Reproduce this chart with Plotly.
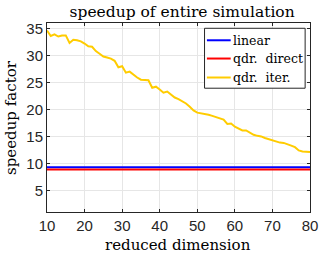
import plotly.graph_objects as go

dims = list(range(10, 81))

linear = [9.30, 9.30, 9.30, 9.29, 9.30, 9.30, 9.29, 9.30, 9.30, 9.30,
          9.29, 9.30, 9.30, 9.30, 9.30, 9.29, 9.30, 9.30, 9.30, 9.30,
          9.29, 9.30, 9.30, 9.30, 9.30, 9.29, 9.30, 9.30, 9.30, 9.30,
          9.29, 9.30, 9.30, 9.30, 9.30, 9.29, 9.30, 9.30, 9.30, 9.30,
          9.29, 9.30, 9.30, 9.30, 9.30, 9.29, 9.30, 9.30, 9.30, 9.30,
          9.29, 9.30, 9.30, 9.30, 9.30, 9.29, 9.30, 9.30, 9.30, 9.30,
          9.29, 9.30, 9.30, 9.30, 9.30, 9.29, 9.30, 9.30, 9.30, 9.30,
          9.30]

qdr_direct = [8.88, 8.88, 8.87, 8.88, 8.88, 8.88, 8.87, 8.88, 8.88, 8.88,
              8.87, 8.88, 8.88, 8.88, 8.88, 8.87, 8.88, 8.88, 8.88, 8.88,
              8.87, 8.88, 8.88, 8.88, 8.88, 8.87, 8.88, 8.88, 8.88, 8.88,
              8.87, 8.88, 8.88, 8.88, 8.88, 8.87, 8.88, 8.88, 8.88, 8.88,
              8.87, 8.88, 8.88, 8.88, 8.88, 8.87, 8.88, 8.88, 8.88, 8.88,
              8.87, 8.88, 8.88, 8.88, 8.88, 8.87, 8.88, 8.88, 8.88, 8.88,
              8.87, 8.88, 8.88, 8.88, 8.88, 8.87, 8.88, 8.88, 8.88, 8.88,
              8.88]

qdr_iter = [34.6, 33.6, 33.9, 33.5, 33.7, 33.7, 32.3, 32.9, 32.8, 32.6,
            32.2, 31.7, 31.6, 30.8, 30.3, 29.8, 29.6, 29.4, 29.0, 27.8,
            28.0, 26.8, 27.0, 26.4, 25.9, 25.5, 25.4, 25.4, 24.0, 24.2,
            23.7, 23.1, 23.3, 22.8, 22.2, 21.9, 21.5, 21.1, 20.5, 19.8,
            19.4, 19.3, 19.2, 19.0, 18.8, 18.6, 18.4, 18.1, 17.3, 17.4,
            16.8, 16.4, 16.1, 16.1, 15.7, 15.3, 15.1, 15.0, 14.7, 14.5,
            14.3, 14.0, 13.85, 13.8, 13.6, 13.3, 13.0, 12.4, 12.2, 12.2,
            12.1]

series_names = ["linear", "qdr.  direct", "qdr.  iter."]
series_colors = ["#0000FF", "#FF0000", "#FFCC00"]
series_values = [linear, qdr_direct, qdr_iter]

x_ticks = [10, 20, 30, 40, 50, 60, 70, 80]
y_ticks = [5, 10, 15, 20, 25, 30, 35]

title_text = "speedup of entire simulation"
x_title = "reduced dimension"
y_title = "speedup factor"

serif = "DejaVu Serif"
sans = "Liberation Sans"

fig = go.Figure()
for name, color, vals in zip(series_names, series_colors, series_values):
    fig.add_trace(go.Scatter(x=dims, y=vals, mode="lines", name=name,
                             line=dict(color=color, width=2), showlegend=False))

# manual legend (MATLAB-style box)
lx0, lx1, ly0, ly1 = 0.599, 0.9815, 0.655, 0.972
fig.add_shape(type="rect", xref="paper", yref="paper", x0=lx0, x1=lx1, y0=ly0, y1=ly1,
              line=dict(color="#262626", width=1), fillcolor="white", layer="above")
row_y = [0.9086, 0.812, 0.7116]
for name, color, ry in zip(series_names, series_colors, row_y):
    fig.add_shape(type="line", xref="paper", yref="paper", x0=0.608, x1=0.6985,
                  y0=ry, y1=ry, line=dict(color=color, width=2), layer="above")
    fig.add_annotation(xref="paper", yref="paper", x=0.70, y=ry, text=name,
                       showarrow=False, xanchor="left", yanchor="middle",
                       font=dict(family=serif, size=12.5, color="#000000"))

# axis titles
fig.add_annotation(xref="paper", yref="paper", x=0.498, y=-0.176, text=x_title,
                   showarrow=False, xanchor="center", yanchor="middle",
                   font=dict(family=serif, size=15, color="#000000"))
fig.add_annotation(xref="paper", yref="paper", x=-0.139, y=0.5, text=y_title,
                   showarrow=False, xanchor="center", yanchor="middle", textangle=-90,
                   font=dict(family=serif, size=15, color="#000000"))

axis_common = dict(showgrid=True, gridcolor="#E6E6E6", gridwidth=1,
                   showline=True, linecolor="#262626", linewidth=1,
                   mirror="ticks", ticks="inside", ticklen=3, tickcolor="#262626",
                   zeroline=False, tickfont=dict(family=sans, size=15, color="#262626"))

fig.update_layout(
    width=327, height=255,
    margin=dict(l=47, r=9, t=23, b=43),
    paper_bgcolor="white", plot_bgcolor="white",
    title=dict(text=title_text, x=0.557, xanchor="center",
               y=0.955, yanchor="middle",
               font=dict(family=serif, size=15.5, color="#000000")),
    xaxis=dict(range=[10, 80], tickvals=x_ticks, **axis_common),
    yaxis=dict(range=[1, 36], tickvals=y_ticks, **axis_common),
    showlegend=False,
)

fig.write_html("out.html", config={"displayModeBar": False},
               post_script="document.body.style.margin='0';")
